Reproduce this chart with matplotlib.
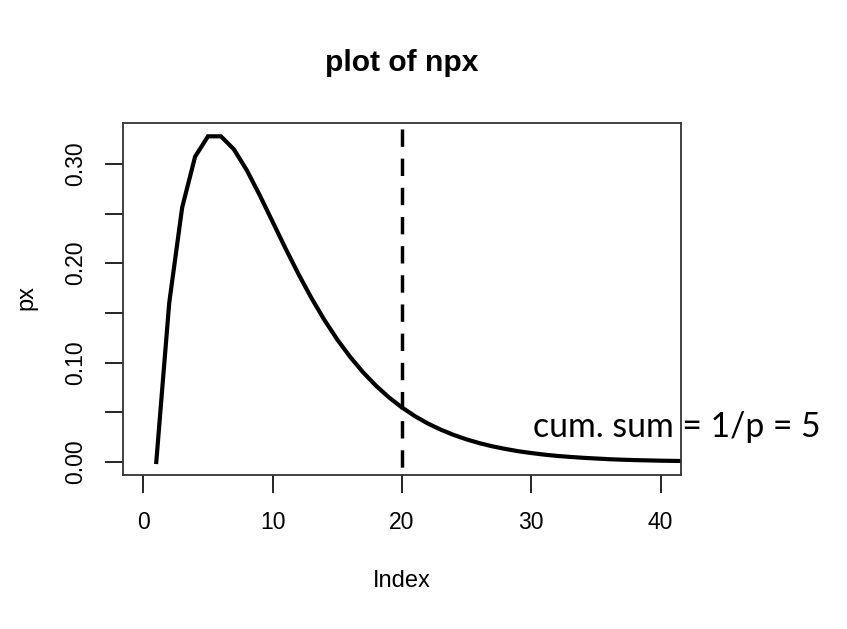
import matplotlib
matplotlib.use("Agg")
import matplotlib.pyplot as plt

plt.rcParams['font.family'] = ['Liberation Sans', 'DejaVu Sans']
plt.rcParams['lines.scale_dashes'] = False

# values
index = list(range(1, 44))
px = [0.0000, 0.1600, 0.2560, 0.3072, 0.3277, 0.3277, 0.3146, 0.2936, 0.2684, 0.2416,
      0.2147, 0.1890, 0.1649, 0.1429, 0.1231, 0.1056, 0.0901, 0.0766, 0.0649, 0.0548,
      0.0461, 0.0387, 0.0325, 0.0272, 0.0227, 0.0189, 0.0157, 0.0131, 0.0108, 0.0090,
      0.0074, 0.0061, 0.0051, 0.0042, 0.0035, 0.0028, 0.0023, 0.0019, 0.0016, 0.0013,
      0.0011, 0.0009, 0.0007]
cut_x = 20
x_ticks = [0, 10, 20, 30, 40]
y_ticks = [0.00, 0.05, 0.10, 0.15, 0.20, 0.25, 0.30]
y_labels = ['0.00', '', '0.10', '', '0.20', '', '0.30']
note = 'cum. sum = 1/p = 5'

W, H = 847, 629
fig = plt.figure(figsize=(W / 100, H / 100), dpi=100)
ax = fig.add_axes([123.3 / W, 1 - 475 / H, (680.7 - 123.3) / W, (475 - 123.3) / H])

ax.plot(index, px, color='black', lw=3.0, solid_joinstyle='miter')
# dashed line drawn top-down so the pattern starts with a short gap at the top
ax.plot([cut_x, cut_x], [1, 0], transform=ax.get_xaxis_transform(), color='black',
        lw=2.5, linestyle=(16.7, (12.5, 8.5)))

ax.set_xlim(-1.55, 41.55)
ax.set_ylim(-0.0131, 0.3408)
ax.set_xticks(x_ticks)
ax.set_yticks(y_ticks)
ax.set_yticklabels(y_labels)
ax.tick_params(length=13, width=1.2, pad=13, labelsize=16.5, colors='black')
ax.tick_params(axis='y', labelrotation=90)
for lab in ax.get_yticklabels():
    lab.set_va('center')
for s in ax.spines.values():
    s.set_linewidth(1.3)
    s.set_color('#333333')

fig.text(402 / W, 1 - 63 / H, 'plot of npx', ha='center', va='center',
         fontsize=21.6, fontweight='bold')
fig.text(402 / W, 1 - 581 / H, 'Index', ha='center', va='center', fontsize=17)
fig.text(26 / W, 1 - 298 / H, 'px', ha='center', va='center', fontsize=17, rotation=90)
fig.text(532.7 / W, 1 - 436.7 / H, note, ha='left', va='baseline', fontsize=24.3,
         family=['Lato', 'DejaVu Sans'])

fig.savefig('out.png', dpi=100)
